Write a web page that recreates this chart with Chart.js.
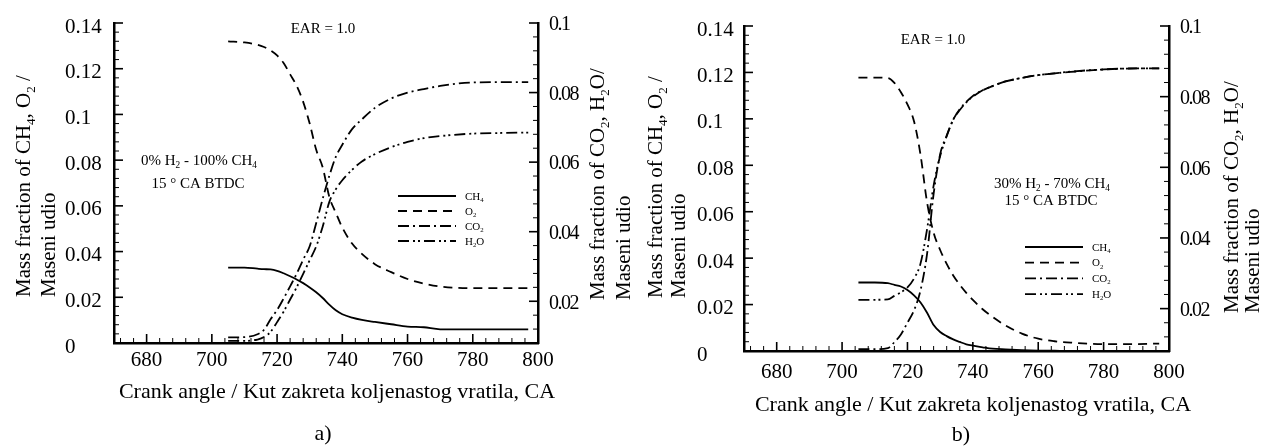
<!DOCTYPE html>
<html>
<head>
<meta charset="utf-8">
<title>Mass fraction vs crank angle</title>
<script src="https://cdn.jsdelivr.net/npm/chart.js@4.4.1/dist/chart.umd.min.js"></script>
<style>
  html, body { margin: 0; padding: 0; background: #fff; }
  #wrap { position: relative; width: 1262px; height: 446px; }
  #wrap canvas { position: absolute; left: 0; top: 0; }
</style>
</head>
<body>
<div id="wrap">
  <canvas id="chart-a" width="1262" height="446"></canvas>
  <canvas id="chart-b" width="1262" height="446"></canvas>
</div>
<script>
// crank angle samples shared by all curves, deg CA
const crankAngle = [705, 710, 714, 716, 718, 720, 722, 724, 726, 728, 730, 732, 734,
  736, 738, 740, 743, 746, 750, 755, 760, 765, 770, 780, 790, 797];

// a) 0% H2 - 100% CH4  (CH4, O2 on left axis; CO2, H2O on right axis)
const ch4A = [0.033, 0.033, 0.0325, 0.0323, 0.0322, 0.0316, 0.0305, 0.0292, 0.0278, 0.0262, 0.0243, 0.0222, 0.0197,
  0.0168, 0.0143, 0.0126, 0.0111, 0.0101, 0.0092, 0.0082, 0.0072, 0.0069, 0.006, 0.006, 0.006, 0.006];
const o2A = [0.132, 0.1315, 0.1305, 0.1295, 0.128, 0.1258, 0.1225, 0.1175, 0.1125, 0.1055, 0.096, 0.0845, 0.0768,
  0.064, 0.057, 0.0505, 0.0435, 0.039, 0.0345, 0.031, 0.028, 0.026, 0.0247, 0.024, 0.024, 0.024];
const co2A = [0.0096, 0.0097, 0.0105, 0.0118, 0.0148, 0.0175, 0.0208, 0.0243, 0.0279, 0.032, 0.0358, 0.0425, 0.0495,
  0.056, 0.0615, 0.065, 0.0695, 0.0723, 0.0756, 0.0783, 0.08, 0.081, 0.0819, 0.0829, 0.083, 0.083];
const h2oA = [0.0086, 0.0086, 0.009, 0.0097, 0.0112, 0.014, 0.017, 0.0205, 0.024, 0.0279, 0.0318, 0.0358, 0.0415,
  0.0485, 0.0522, 0.0548, 0.0578, 0.0602, 0.0623, 0.0643, 0.0658, 0.0669, 0.0675, 0.0682, 0.0684, 0.0685];

// b) 30% H2 - 70% CH4
const ch4B = [0.0295, 0.0295, 0.0292, 0.0285, 0.0278, 0.0263, 0.024, 0.0209, 0.0165, 0.0112, 0.0082, 0.0064, 0.005,
  0.0039, 0.0029, 0.0023, 0.0016, 0.001, 0.0007, 0.0004, 0.0002, 0.0001, 0, 0, 0, 0];
const o2B = [0.1178, 0.1178, 0.1176, 0.1155, 0.1115, 0.1062, 0.099, 0.0845, 0.064, 0.051, 0.0435, 0.0375, 0.0325,
  0.0285, 0.025, 0.022, 0.018, 0.0147, 0.011, 0.0075, 0.0053, 0.0042, 0.0036, 0.003, 0.003, 0.0032];
const co2B = [0.0085, 0.0085, 0.0088, 0.0105, 0.0127, 0.016, 0.0195, 0.0252, 0.0355, 0.0525, 0.0637, 0.069, 0.0735,
  0.0765, 0.0785, 0.0802, 0.0818, 0.083, 0.0843, 0.0853, 0.0861, 0.0866, 0.087, 0.0877, 0.088, 0.088];
const h2oB = [0.0225, 0.0225, 0.0226, 0.0236, 0.0246, 0.026, 0.0285, 0.0328, 0.0425, 0.0548, 0.0632, 0.0688, 0.0735,
  0.0762, 0.0784, 0.08, 0.0818, 0.083, 0.0843, 0.0853, 0.0861, 0.0866, 0.0871, 0.0877, 0.088, 0.088];

// axis ticks
const angleTicks = [680, 700, 720, 740, 760, 780, 800];
const fuelTicks = [0, 0.02, 0.04, 0.06, 0.08, 0.1, 0.12, 0.14];
const productTicks = [0.02, 0.04, 0.06, 0.08, 0.1];

// "_x" marks a subscript character
const species = ['CH_4', 'O_2', 'CO_2', 'H_2O'];
const dashes = [[], [9, 6], [11, 4, 2, 4], [11, 4, 2, 3, 2, 4]];

const serif = "'Liberation Serif', 'Times New Roman', serif";
const W = 1262, H = 446;

const panels = [
  {
    id: 'chart-a',
    series: [ch4A, o2A, co2A, h2oA],
    area: { left: 114, top: 16, right: 538, bottom: 343 },
    labelLeft: 65, xLabelPad: 5,
    notes: [['EAR = 1.0', 323, 28], ['0% H_2 - 100% CH_4', 199, 160], ['15 ° CA BTDC', 198, 183]],
    legend: { x: 398, y: 196, step: 15 },
    xTitle: [337, 391], tag: ['a)', 323, 433],
    leftTitle: { x: [23, 48], bottom: 297 },
    rightTitle: { x: [597, 623], bottom: 300 },
  },
  {
    id: 'chart-b',
    series: [ch4B, o2B, co2B, h2oB],
    area: { left: 744, top: 26, right: 1169, bottom: 351 },
    labelLeft: 697, xLabelPad: 9,
    notes: [['EAR = 1.0', 933, 39], ['30% H_2 - 70% CH_4', 1052, 183], ['15 ° CA BTDC', 1051, 200]],
    legend: { x: 1025, y: 247, step: 15.7 },
    xTitle: [973, 404], tag: ['b)', 961, 434],
    leftTitle: { x: [655, 678], bottom: 298 },
    rightTitle: { x: [1231, 1252], bottom: 313 },
  },
];

// text with subscripts; y is the visual middle of the capitals
function drawRich(ctx, text, x, y, size, align) {
  const pieces = text.split(/(_.)/).filter(s => s).map(s =>
    s[0] === '_' ? { t: s.slice(1), size: size * 0.62, dy: size * 0.22 } : { t: s, size: size, dy: 0 });
  let total = 0;
  pieces.forEach(p => {
    ctx.font = p.size + 'px ' + serif;
    p.w = ctx.measureText(p.t).width;
    total += p.w;
  });
  let cx = align === 'center' ? x - total / 2 : x;
  const base = y + size * 0.33;
  ctx.textAlign = 'left';
  ctx.textBaseline = 'alphabetic';
  pieces.forEach(p => {
    ctx.font = p.size + 'px ' + serif;
    ctx.fillText(p.t, cx, base + p.dy);
    cx += p.w;
  });
}

function drawVertical(ctx, lines, xs, bottom, size) {
  lines.forEach((t, i) => {
    ctx.save();
    ctx.translate(xs[i], bottom);
    ctx.rotate(-Math.PI / 2);
    drawRich(ctx, t, 0, 0, size, 'left');
    ctx.restore();
  });
}

// minor tick values between scale min and max, flagged when they hit a major tick
function tickValues(scale, majors, step) {
  const out = [];
  for (let k = Math.ceil(scale.min / step - 1e-9); k * step <= scale.max + 1e-9; k++) {
    const v = +(k * step).toFixed(6);
    out.push([v, majors.some(m => Math.abs(m - v) < step / 10)]);
  }
  return out;
}

function decor(p) {
  return {
    id: 'decor',
    beforeDraw(chart) { chart.ctx.letterSpacing = '0px'; },
    // right axis labels (ticks.z = 1) come after this and run narrow
    afterDatasetsDraw(chart) { chart.ctx.letterSpacing = '-1.5px'; },
    afterDraw(chart) {
      const ctx = chart.ctx;
      const a = chart.chartArea;
      const { x, yL, yR } = chart.scales;
      ctx.save();
      ctx.letterSpacing = '0px';
      ctx.strokeStyle = '#000';
      ctx.fillStyle = '#000';

      // inward tick marks
      const seg = (x1, y1, x2, y2, w) => {
        ctx.lineWidth = w;
        ctx.beginPath(); ctx.moveTo(x1, y1); ctx.lineTo(x2, y2); ctx.stroke();
      };
      tickValues(x, angleTicks, 4).forEach(([v, major]) => {
        const px = x.getPixelForValue(v);
        seg(px, a.bottom, px, a.bottom - (major ? 9 : 5), major ? 1.6 : 1);
      });
      tickValues(yL, fuelTicks, 0.004).forEach(([v, major]) => {
        const py = yL.getPixelForValue(v);
        seg(a.left, py, a.left + (major ? 9 : 5), py, major ? 1.6 : 1);
      });
      tickValues(yR, productTicks, 0.004).forEach(([v, major]) => {
        const py = yR.getPixelForValue(v);
        seg(a.right, py, a.right - (major ? 9 : 5), py, major ? 1.6 : 1);
      });

      // legend
      chart.data.datasets.forEach((ds, i) => {
        const ly = p.legend.y + i * p.legend.step;
        ctx.setLineDash(ds.borderDash);
        seg(p.legend.x, ly, p.legend.x + 58, ly, 1.8);
        ctx.setLineDash([]);
        drawRich(ctx, ds.label, p.legend.x + 67, ly, 11, 'left');
      });

      // notes inside the plot
      p.notes.forEach(([t, nx, ny]) => drawRich(ctx, t, nx, ny, 15, 'center'));

      // axis titles
      drawRich(ctx, 'Crank angle / Kut zakreta koljenastog vratila, CA', p.xTitle[0], p.xTitle[1], 22, 'center');
      drawRich(ctx, p.tag[0], p.tag[1], p.tag[2], 22, 'center');
      drawVertical(ctx, ['Mass fraction of CH_4, O_2 /', 'Maseni udio'], p.leftTitle.x, p.leftTitle.bottom, 21);
      drawVertical(ctx, ['Mass fraction of CO_2, H_2O/', 'Maseni udio'], p.rightTitle.x, p.rightTitle.bottom, 21);
      ctx.restore();
    },
  };
}

const fmt = v => String(+Number(v).toFixed(2));

panels.forEach(p => {
  new Chart(document.getElementById(p.id), {
    type: 'line',
    data: {
      datasets: species.map((name, i) => ({
        label: name,
        data: crankAngle.map((ang, k) => ({ x: ang, y: p.series[i][k] })),
        yAxisID: i < 2 ? 'yL' : 'yR',
        borderColor: '#000',
        borderWidth: 1.8,
        borderDash: dashes[i],
        pointRadius: 0,
        cubicInterpolationMode: 'monotone',
        fill: false,
      })),
    },
    options: {
      responsive: false,
      animation: false,
      events: [],
      layout: { padding: { left: p.labelLeft, top: p.area.top, right: 0, bottom: 0 } },
      plugins: { legend: { display: false }, tooltip: { enabled: false } },
      scales: {
        x: {
          type: 'linear', min: 670, max: 800,
          grid: { display: false, drawTicks: false },
          border: { color: '#000', width: 2.5 },
          ticks: { font: { family: serif, size: 21 }, color: '#000', padding: p.xLabelPad, maxRotation: 0, autoSkip: false },
          afterBuildTicks: s => { s.ticks = angleTicks.map(v => ({ value: v })); },
          afterFit: s => { s.height = H - p.area.bottom; },
        },
        yL: {
          type: 'linear', position: 'left', min: 0, max: 0.14,
          grid: { display: false, drawTicks: false },
          border: { color: '#000', width: 2.5 },
          ticks: { font: { family: serif, size: 21 }, color: '#000', crossAlign: 'far', labelOffset: 4, autoSkip: false, callback: fmt },
          afterBuildTicks: s => { s.ticks = fuelTicks.map(v => ({ value: v })); },
          afterFit: s => { s.width = p.area.left - p.labelLeft; },
        },
        yR: {
          type: 'linear', position: 'right', min: 0.008, max: 0.1,
          grid: { display: false, drawTicks: false },
          border: { color: '#000', width: 2.5 },
          ticks: { font: { family: serif, size: 20 }, color: '#000', padding: 11, labelOffset: 2, z: 1, autoSkip: false, callback: fmt },
          afterBuildTicks: s => { s.ticks = productTicks.map(v => ({ value: v })); },
          afterFit: s => { s.width = W - p.area.right; },
        },
      },
    },
    plugins: [decor(p)],
  });
});
</script>
</body>
</html>
